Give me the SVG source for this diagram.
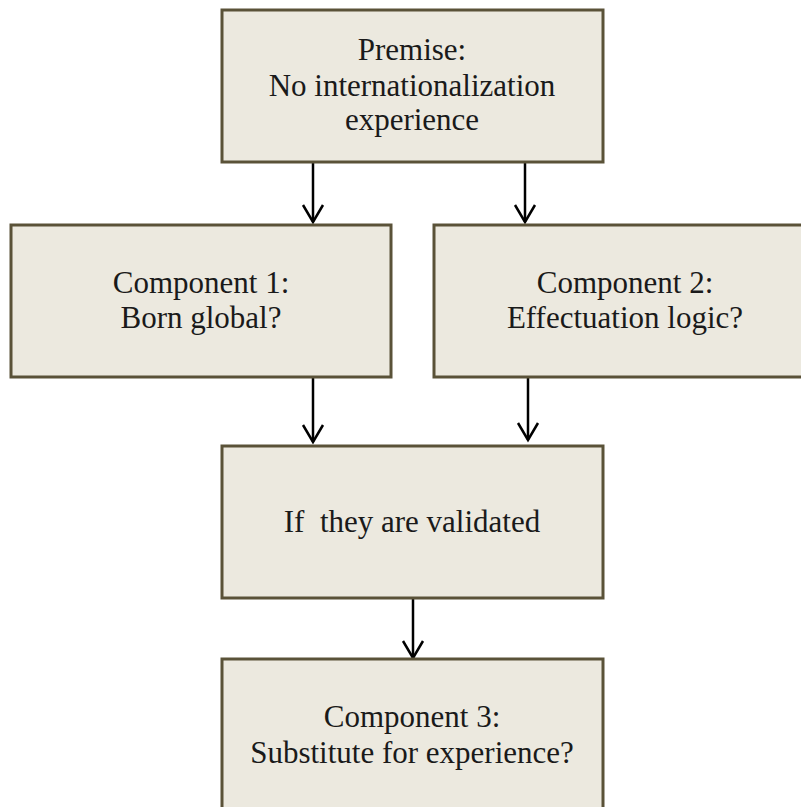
<svg xmlns="http://www.w3.org/2000/svg" width="801" height="807" viewBox="0 0 801 807">
<style>
.box{fill:#ECE9DF;stroke:#5A5238;stroke-width:3}
.t{font-family:"Liberation Serif","Times New Roman",serif;font-size:31px;fill:#1a1a1a;text-anchor:middle}
.c{stroke:#000;stroke-width:2.5;fill:none}
</style>
<defs>
<marker id="ah" markerWidth="24" markerHeight="24" viewBox="-12 -20 24 24" refX="0" refY="0" orient="0" markerUnits="userSpaceOnUse">
<path d="M-10,-17 L0,0 L10,-17" fill="none" stroke="#000" stroke-width="2.5"/>
</marker>
</defs>
<rect width="801" height="807" fill="#fff"/>
<g id="connectors">
<line class="c" x1="313" y1="162" x2="313" y2="222" marker-end="url(#ah)"/>
<line class="c" x1="525" y1="162" x2="525" y2="222" marker-end="url(#ah)"/>
<line class="c" x1="313" y1="377" x2="313" y2="442" marker-end="url(#ah)"/>
<line class="c" x1="528" y1="377" x2="528" y2="440" marker-end="url(#ah)"/>
<line class="c" x1="413" y1="598" x2="413" y2="658" marker-end="url(#ah)"/>
</g>
<g id="premise">
<rect class="box" x="222" y="10" width="381" height="152"/>
<text class="t" x="412" y="60">Premise:</text>
<text class="t" x="412" y="96">No internationalization</text>
<text class="t" x="412" y="130">experience</text>
</g>
<g id="component1">
<rect class="box" x="11" y="225" width="380" height="152"/>
<text class="t" x="201" y="293">Component 1:</text>
<text class="t" x="201" y="328">Born global?</text>
</g>
<g id="component2">
<rect class="box" x="434" y="225" width="380" height="152"/>
<text class="t" x="625" y="293">Component 2:</text>
<text class="t" x="625" y="328">Effectuation logic?</text>
</g>
<g id="validated">
<rect class="box" x="222" y="446" width="381" height="152"/>
<text class="t" x="412" y="532" xml:space="preserve">If  they are validated</text>
</g>
<g id="component3">
<rect class="box" x="222" y="659" width="381" height="160"/>
<text class="t" x="412" y="727">Component 3:</text>
<text class="t" x="412" y="763">Substitute for experience?</text>
</g>
</svg>
